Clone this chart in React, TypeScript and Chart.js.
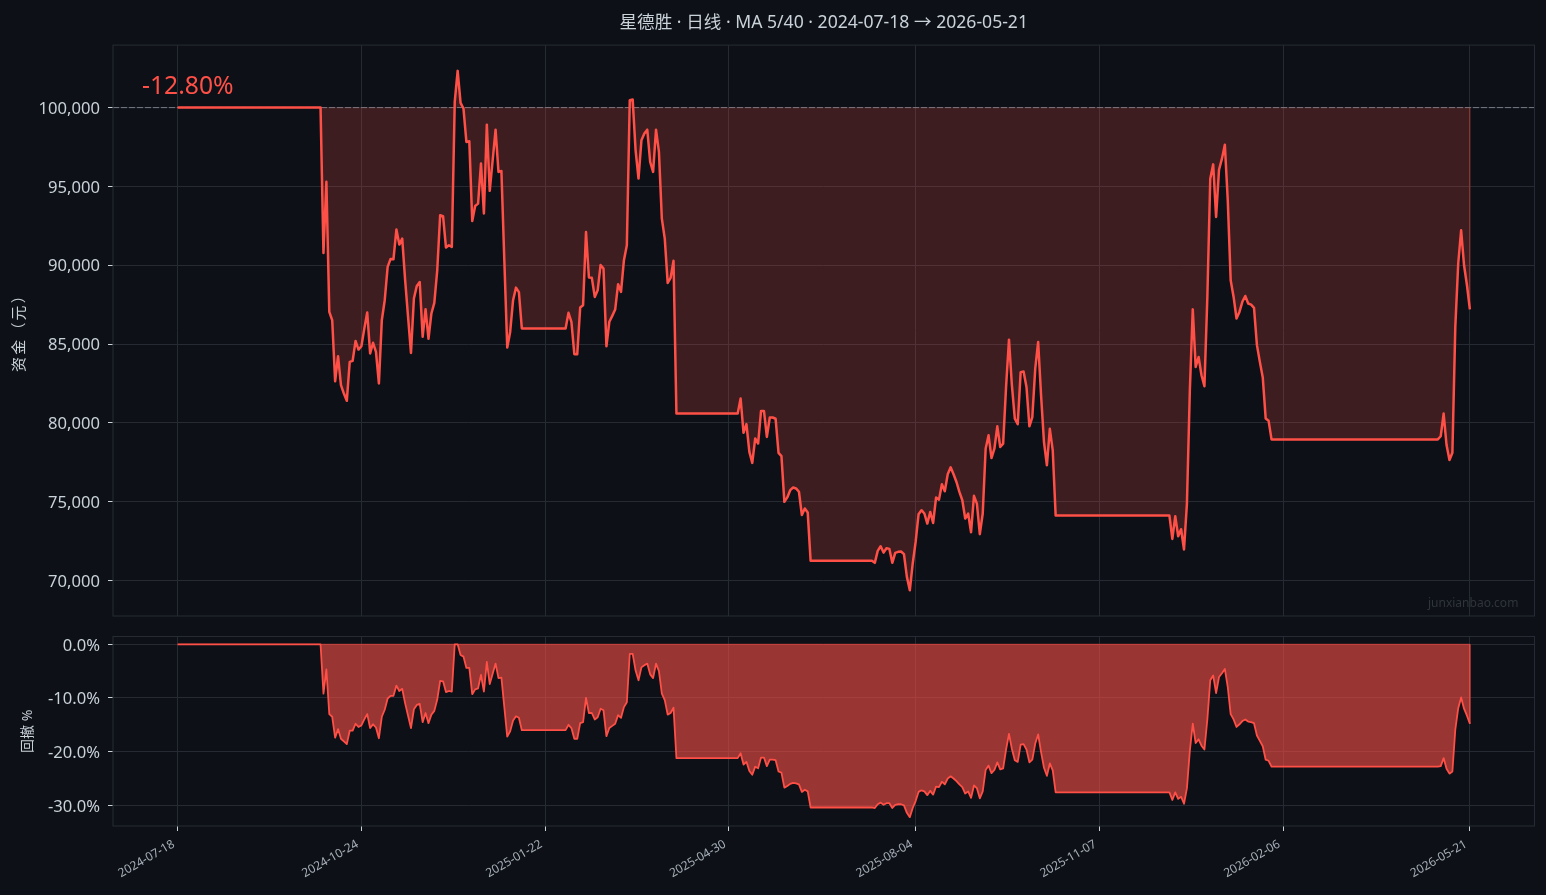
import React, { useEffect, useRef } from "react";
import { Chart, registerables } from "chart.js";

Chart.register(...registerables);

const titleText = "星德胜 · 日线 · MA 5/40 · 2024-07-18 → 2026-05-21";
const returnText = "-12.80%";
const watermarkText = "junxianbao.com";
const equityAxisTitle = "资金（元）";
const drawdownAxisTitle = "回撤 %";

const tickIndices = [0, 63, 126, 189, 253, 316, 379, 443];
const tickDates = ["2024-07-18", "2024-10-24", "2025-01-22", "2025-04-30", "2025-08-04", "2025-11-07", "2026-02-06", "2026-05-21"];
const equityTicks = [70000, 75000, 80000, 85000, 90000, 95000, 100000];
const drawdownTicks = [-30, -20, -10, 0];
const initialCapital = 100000;

const equity = [
  100000, 100000, 100000, 100000, 100000, 100000, 100000, 100000, 100000, 100000,
  100000, 100000, 100000, 100000, 100000, 100000, 100000, 100000, 100000, 100000,
  100000, 100000, 100000, 100000, 100000, 100000, 100000, 100000, 100000, 100000,
  100000, 100000, 100000, 100000, 100000, 100000, 100000, 100000, 100000, 100000,
  100000, 100000, 100000, 100000, 100000, 100000, 100000, 100000, 100000, 100000,
  90780, 95290, 87040, 86510, 82640, 84230, 82390, 81860, 81400, 83870,
  83930, 85200, 84650, 84860, 85980, 87000, 84400, 85080, 84500, 82500,
  86510, 87780, 89900, 90400, 90380, 92260, 91310, 91690, 89050, 86720,
  84440, 87890, 88690, 88940, 85460, 87210, 85330, 86940, 87610, 89680,
  93170, 93110, 91120, 91270, 91160, 100360, 102330, 100300, 99940, 97820,
  97860, 92810, 93760, 93910, 96450, 93280, 98920, 94720, 96660, 98600,
  95920, 95980, 90320, 84780, 85770, 87780, 88580, 88290,
  85990, 85990, 85990, 85990, 85990, 85990, 85990, 85990, 85990, 85990,
  85990, 85990, 85990, 85990, 85990, 85990,
  86980, 86410, 84360, 84360, 87320, 87460, 92110, 89220, 89200, 87990,
  88410, 90020, 89790, 84860, 86410, 86790, 87190, 88800, 88310, 90320,
  91270, 100470, 100510, 97290, 95500, 97930, 98350, 98600, 96550, 95920,
  98600, 97190, 92960, 91690, 88880, 89200, 90280,
  80590, 80590, 80590, 80590, 80590, 80590, 80590, 80590, 80590, 80590,
  80590, 80590, 80590, 80590, 80590, 80590, 80590, 80590, 80590, 80590,
  80590, 80590,
  81540, 79370, 79920, 78160, 77460, 79010, 78690, 80760, 80760, 79110,
  80340, 80340, 80260, 78100, 77890, 74990, 75270, 75730, 75900, 75840,
  75630, 74150, 74570, 74320,
  71250, 71250, 71250, 71250, 71250, 71250, 71250, 71250, 71250, 71250,
  71250, 71250, 71250, 71250, 71250, 71250, 71250, 71250, 71250, 71250,
  71250, 71250,
  71120, 71880, 72175, 71770, 72050, 72005, 71120, 71750, 71820, 71840,
  71670, 70230, 69380, 71080, 72450, 74200, 74460, 74250, 73610, 74350,
  73650, 75260, 75130, 76100, 75660, 76740, 77180, 76740, 76250, 75620,
  75090, 73930, 74250, 73060, 75370, 74880, 72940, 74250, 78360, 79210,
  77770, 78360, 79780, 78470, 78680, 82280, 85280, 82380, 80270, 79910,
  83220, 83260, 82280, 79780, 80370, 83440, 85130, 81740, 78780, 77310,
  79620, 78250,
  74120, 74120, 74120, 74120, 74120, 74120, 74120, 74120, 74120, 74120,
  74120, 74120, 74120, 74120, 74120, 74120, 74120, 74120, 74120, 74120,
  74120, 74120, 74120, 74120, 74120, 74120, 74120, 74120, 74120, 74120,
  74120, 74120, 74120, 74120, 74120, 74120, 74120, 74120, 74120, 74120,
  72640, 74080, 72810, 73250, 71970, 74880, 82070, 87200, 83550, 84180,
  83020, 82320, 87990, 95490, 96400, 93060, 96060, 96760, 97650, 94120,
  89050, 87990, 86620, 87040, 87680, 88050, 87570, 87500, 87300, 84930,
  83870, 82880, 80280, 80130,
  78950, 78950, 78950, 78950, 78950, 78950, 78950, 78950, 78950, 78950,
  78950, 78950, 78950, 78950, 78950, 78950, 78950, 78950, 78950, 78950,
  78950, 78950, 78950, 78950, 78950, 78950, 78950, 78950, 78950, 78950,
  78950, 78950, 78950, 78950, 78950, 78950, 78950, 78950, 78950, 78950,
  78950, 78950, 78950, 78950, 78950, 78950, 78950, 78950, 78950, 78950,
  78950, 78950, 78950, 78950, 78950, 78950, 78950, 78950,
  79150, 80590, 78590, 77640, 78100, 86090, 90110, 92220, 90000, 88730,
  87200,
];

const drawdown = [
  0, 0, 0, 0, 0, 0, 0, 0, 0, 0,
  0, 0, 0, 0, 0, 0, 0, 0, 0, 0,
  0, 0, 0, 0, 0, 0, 0, 0, 0, 0,
  0, 0, 0, 0, 0, 0, 0, 0, 0, 0,
  0, 0, 0, 0, 0, 0, 0, 0, 0, 0,
  -9.2, -4.7, -13.0, -13.5, -17.4, -15.8, -17.6, -18.1, -18.6, -16.1,
  -16.1, -14.8, -15.4, -15.1, -14.0, -13.0, -15.6, -14.9, -15.5, -17.5,
  -13.5, -12.2, -10.1, -9.6, -9.6, -7.7, -8.7, -8.3, -11.0, -13.3,
  -15.6, -12.1, -11.3, -11.1, -14.5, -12.8, -14.7, -13.1, -12.4, -10.3,
  -6.8, -6.9, -8.9, -8.7, -8.8, 0, 0, -2.0, -2.3, -4.4,
  -4.4, -9.3, -8.4, -8.2, -5.7, -8.8, -3.3, -7.4, -5.5, -3.6,
  -6.3, -6.2, -11.7, -17.2, -16.2, -14.2, -13.4, -13.7,
  -16.0, -16.0, -16.0, -16.0, -16.0, -16.0, -16.0, -16.0, -16.0, -16.0,
  -16.0, -16.0, -16.0, -16.0, -16.0, -16.0,
  -15.0, -15.6, -17.6, -17.6, -14.7, -14.5, -10.0, -12.8, -12.8, -14.0,
  -13.6, -12.0, -12.3, -17.1, -15.6, -15.2, -14.8, -13.2, -13.7, -11.7,
  -10.8, -1.8, -1.8, -4.9, -6.7, -4.3, -3.9, -3.6, -5.6, -6.3,
  -3.6, -5.0, -9.2, -10.4, -13.1, -12.8, -11.8,
  -21.2, -21.2, -21.2, -21.2, -21.2, -21.2, -21.2, -21.2, -21.2, -21.2,
  -21.2, -21.2, -21.2, -21.2, -21.2, -21.2, -21.2, -21.2, -21.2, -21.2,
  -21.2, -21.2,
  -20.3, -22.4, -21.9, -23.6, -24.3, -22.8, -23.1, -21.1, -21.1, -22.7,
  -21.5, -21.5, -21.6, -23.7, -23.9, -26.7, -26.4, -26.0, -25.8, -25.9,
  -26.1, -27.5, -27.1, -27.4,
  -30.4, -30.4, -30.4, -30.4, -30.4, -30.4, -30.4, -30.4, -30.4, -30.4,
  -30.4, -30.4, -30.4, -30.4, -30.4, -30.4, -30.4, -30.4, -30.4, -30.4,
  -30.4, -30.4,
  -30.5, -29.8, -29.5, -29.9, -29.6, -29.6, -30.5, -29.9, -29.8, -29.8,
  -30.0, -31.4, -32.2, -30.5, -29.2, -27.5, -27.2, -27.4, -28.1, -27.3,
  -28.0, -26.5, -26.6, -25.6, -26.1, -25.0, -24.6, -25.0, -25.5, -26.1,
  -26.6, -27.8, -27.4, -28.6, -26.3, -26.8, -28.7, -27.4, -23.4, -22.6,
  -24.0, -23.4, -22.0, -23.3, -23.1, -19.6, -16.7, -19.5, -21.6, -21.9,
  -18.7, -18.6, -19.6, -22.0, -21.5, -18.5, -16.8, -20.1, -23.0, -24.5,
  -22.2, -23.5,
  -27.6, -27.6, -27.6, -27.6, -27.6, -27.6, -27.6, -27.6, -27.6, -27.6,
  -27.6, -27.6, -27.6, -27.6, -27.6, -27.6, -27.6, -27.6, -27.6, -27.6,
  -27.6, -27.6, -27.6, -27.6, -27.6, -27.6, -27.6, -27.6, -27.6, -27.6,
  -27.6, -27.6, -27.6, -27.6, -27.6, -27.6, -27.6, -27.6, -27.6, -27.6,
  -29.0, -27.6, -28.8, -28.4, -29.7, -26.8, -19.8, -14.8, -18.4, -17.7,
  -18.9, -19.6, -14.0, -6.7, -5.8, -9.1, -6.1, -5.4, -4.6, -8.0,
  -13.0, -14.0, -15.4, -14.9, -14.3, -14.0, -14.4, -14.5, -14.7, -17.0,
  -18.0, -19.0, -21.5, -21.7,
  -22.8, -22.8, -22.8, -22.8, -22.8, -22.8, -22.8, -22.8, -22.8, -22.8,
  -22.8, -22.8, -22.8, -22.8, -22.8, -22.8, -22.8, -22.8, -22.8, -22.8,
  -22.8, -22.8, -22.8, -22.8, -22.8, -22.8, -22.8, -22.8, -22.8, -22.8,
  -22.8, -22.8, -22.8, -22.8, -22.8, -22.8, -22.8, -22.8, -22.8, -22.8,
  -22.8, -22.8, -22.8, -22.8, -22.8, -22.8, -22.8, -22.8, -22.8, -22.8,
  -22.8, -22.8, -22.8, -22.8, -22.8, -22.8, -22.8, -22.8,
  -22.7, -21.2, -23.2, -24.1, -23.7, -15.9, -11.9, -9.9, -12.0, -13.3,
  -14.8,
];

const BG = "#0d1117";
const GRID = "#262a32";
const RED = "#ff5047";
const TEXT = "#c9d1d9";
const FONT = '"Noto Sans", "Noto Sans CJK SC", sans-serif';
const X_MIN = -22.15;
const X_MAX = 465.15;
const LAST = equity.length - 1;

const frame = {
  id: "frame",
  afterDraw(chart: any) {
    const { ctx, chartArea: a } = chart;
    ctx.save();
    ctx.strokeStyle = GRID;
    ctx.lineWidth = 1;
    ctx.strokeRect(a.left, a.top, a.right - a.left, a.bottom - a.top);
    ctx.restore();
  },
};

const labels = {
  id: "labels",
  afterDraw(chart: any) {
    const { ctx } = chart;
    ctx.save();
    ctx.textBaseline = "middle";
    ctx.textAlign = "left";
    ctx.fillStyle = RED;
    ctx.font = `24.7px ${FONT}`;
    ctx.fillText(returnText, 142, 86.5);
    ctx.fillStyle = "#30343c";
    ctx.font = `12px ${FONT}`;
    ctx.fillText(watermarkText, 1428, 604);
    ctx.translate(20, 329);
    ctx.rotate(-Math.PI / 2);
    ctx.textAlign = "center";
    ctx.fillStyle = TEXT;
    ctx.font = `15px ${FONT}`;
    ctx.letterSpacing = "2.2px";
    ctx.fillText(equityAxisTitle, 0, 0);
    ctx.restore();
  },
};

function xScale(showLabels: boolean) {
  return {
    type: "linear",
    min: X_MIN,
    max: X_MAX,
    afterBuildTicks(s: any) {
      s.ticks = tickIndices.map((value) => ({ value }));
    },
    afterFit(s: any) {
      s.height = showLabels ? 69 : 24;
    },
    border: { display: false },
    grid: { color: GRID, lineWidth: 1, drawTicks: showLabels, tickLength: 5, tickColor: "#c9d1d9" },
    ticks: {
      display: showLabels,
      autoSkip: false,
      maxRotation: 30,
      minRotation: 30,
      padding: 6,
      labelOffset: -4,
      color: "#a5adb6",
      font: { family: FONT, size: 12 },
      callback: (v: number) => tickDates[tickIndices.indexOf(v)],
    },
  };
}

function yScale(opts: any) {
  return {
    type: "linear",
    min: opts.min,
    max: opts.max,
    afterBuildTicks(s: any) {
      s.ticks = opts.ticks.map((value: number) => ({ value }));
    },
    afterFit(s: any) {
      s.width = 113;
    },
    border: { display: false },
    grid: { color: GRID, lineWidth: 1, tickLength: 5, tickColor: "#c9d1d9" },
    ticks: {
      color: TEXT,
      padding: 8,
      labelOffset: 1.5,
      font: { family: FONT, size: 16.6 },
      callback: opts.format,
    },
    title: opts.title
      ? {
          display: true,
          text: opts.title,
          color: TEXT,
          padding: opts.titlePadding,
          font: { family: FONT, size: opts.titleSize },
        }
      : { display: false },
  };
}

export default function App() {
  const topRef = useRef<HTMLCanvasElement>(null);
  const bottomRef = useRef<HTMLCanvasElement>(null);

  useEffect(() => {
    document.body.style.margin = "0";
    document.body.style.background = BG;

    const top = new Chart(topRef.current as any, {
      type: "line",
      data: {
        datasets: [
          {
            data: [
              { x: X_MIN, y: initialCapital },
              { x: X_MAX, y: initialCapital },
            ],
            borderColor: "rgba(150,158,168,0.7)",
            borderWidth: 1,
            borderDash: [6, 2],
            pointRadius: 0,
            fill: false,
            order: 3,
          },
          {
            data: [
              { x: LAST, y: initialCapital },
              { x: LAST, y: equity[LAST] },
            ],
            borderColor: "rgba(255,80,71,0.2)",
            borderWidth: 1,
            pointRadius: 0,
            fill: false,
            order: 2,
          },
          {
            data: equity.map((y, x) => ({ x, y })),
            borderColor: RED,
            borderWidth: 2.5,
            borderJoinStyle: "round",
            pointRadius: 0,
            tension: 0,
            fill: { value: initialCapital },
            backgroundColor: "rgba(255,80,71,0.2)",
            order: 1,
          },
        ],
      } as any,
      options: {
        animation: false,
        responsive: false,
        layout: { padding: { right: 11.5, bottom: 0 } },
        plugins: {
          legend: { display: false },
          tooltip: { enabled: false },
          title: {
            display: true,
            fullSize: false,
            text: titleText,
            color: TEXT,
            align: "center",
            font: { family: FONT, size: 17.6, weight: "normal" },
            padding: { top: 12, bottom: 12 },
          },
        },
        scales: {
          x: xScale(false),
          y: yScale({
            min: 67748,
            max: 103964,
            ticks: equityTicks,
            format: (v: number) => v.toLocaleString("en-US"),
          }),
        },
      } as any,
      plugins: [frame, labels],
    });

    const bottom = new Chart(bottomRef.current as any, {
      type: "line",
      data: {
        datasets: [
          {
            data: [
              { x: 0, y: 0 },
              { x: LAST, y: 0 },
              { x: LAST, y: drawdown[LAST] },
            ],
            borderColor: "rgba(255,80,71,0.6)",
            borderWidth: 1,
            pointRadius: 0,
            fill: false,
            order: 2,
          },
          {
            data: drawdown.map((y, x) => ({ x, y })),
            borderColor: RED,
            borderWidth: 1.8,
            borderJoinStyle: "round",
            pointRadius: 0,
            tension: 0,
            fill: { value: 0 },
            backgroundColor: "rgba(255,80,71,0.58)",
            order: 1,
          },
        ],
      } as any,
      options: {
        animation: false,
        responsive: false,
        layout: { padding: { right: 11.5, top: 26.5 } },
        plugins: { legend: { display: false }, tooltip: { enabled: false } },
        scales: {
          x: xScale(true),
          y: yScale({
            min: -33.85,
            max: 1.45,
            ticks: drawdownTicks,
            format: (v: number) => `${v.toFixed(1)}%`,
            title: drawdownAxisTitle,
            titleSize: 14,
            titlePadding: { top: 20, bottom: 0 },
          }),
        },
      } as any,
      plugins: [frame],
    });

    return () => {
      top.destroy();
      bottom.destroy();
    };
  }, []);

  return (
    <div style={{ position: "fixed", left: 0, top: 0, width: 1546, height: 895, background: BG, overflow: "hidden" }}>
      <canvas ref={topRef} width={1546} height={640} style={{ position: "absolute", left: 0, top: 0, width: 1546, height: 640 }} />
      <canvas ref={bottomRef} width={1546} height={285} style={{ position: "absolute", left: 0, top: 610, width: 1546, height: 285 }} />
    </div>
  );
}
